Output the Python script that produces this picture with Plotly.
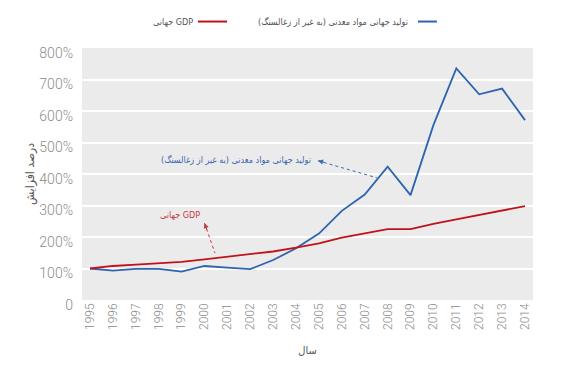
import plotly.graph_objects as go

years = list(range(1995, 2015))
minerals = [100, 93, 99, 99, 90, 108, 103, 98, 127, 164, 211, 283, 335, 423, 333, 555, 735, 653, 671, 571]
gdp = [100, 108, 112, 116, 121, 129, 138, 145, 154, 166, 180, 198, 212, 225, 225, 242, 256, 270, 284, 298]

name_minerals = "تولید جهانی مواد معدنی (به غیر از زغالسنگ)"
name_gdp = "جهانی GDP"

y_ticks = [0, 100, 200, 300, 400, 500, 600, 700, 800]
y_ticktext = ["0", "100%", "200%", "300%", "400%", "500%", "600%", "700%", "800%"]
x_ticktext = [str(y) for y in years]

blue = "#2e63b0"
red = "#c0121a"
tick_col = "#8c8c8c"
font_fam = "Roboto, Open Sans, DejaVu Sans, sans-serif"
ar_fam = "DejaVu Sans Condensed, DejaVu Sans, sans-serif"

fig = go.Figure()
fig.add_trace(go.Scatter(x=years, y=minerals, mode="lines", name=name_minerals,
                         line=dict(color=blue, width=1.8), showlegend=False))
fig.add_trace(go.Scatter(x=years, y=gdp, mode="lines", name=name_gdp,
                         line=dict(color=red, width=1.8), showlegend=False))

shapes = []
annotations = []

# manual RTL legend (symbol to the right of the text)
for name, col, tx, lx0, lx1 in [(name_gdp, red, 0.2506, 0.257, 0.3215),
                                 (name_minerals, blue, 0.727, 0.745, 0.787)]:
    shapes.append(dict(type="line", xref="paper", yref="paper", x0=lx0, x1=lx1,
                       y0=1.105, y1=1.105, line=dict(color=col, width=2)))
    annotations.append(dict(xref="paper", yref="paper", x=tx, y=1.105, text=name,
                            showarrow=False, xanchor="right", yanchor="middle",
                            font=dict(size=9, color="#555555", family=ar_fam)))

# callout labels with dotted leaders
for text, col, tx, ty, hx, hy, tlx, tly, ax, ay in [
        (name_minerals, "#3a68b4", 2004.74, 447, 2004.96, 442, 2007.53, 388, 8, 2),
        (name_gdp, "#c43a3a", 1999.9, 270, 2000.0, 244, 2000.46, 149, 3, 8)]:
    annotations.append(dict(x=tx, y=ty, text=text, showarrow=False, xanchor="right",
                            yanchor="middle", font=dict(size=9, color=col, family=ar_fam)))
    shapes.append(dict(type="line", xref="x", yref="y", x0=hx, y0=hy, x1=tlx, y1=tly,
                       line=dict(color=col, width=1, dash="dot")))
    annotations.append(dict(x=hx, y=hy, text="", showarrow=True, ax=ax, ay=ay,
                            arrowhead=2, arrowsize=1, arrowwidth=1, arrowcolor=col))

fig.update_layout(
    width=571, height=371,
    margin=dict(l=74, r=46, t=40, b=79),
    paper_bgcolor="white", plot_bgcolor="#ebebeb",
    font=dict(family=font_fam, color="#555555"),
    shapes=shapes, annotations=annotations,
    showlegend=False,
)
fig.update_xaxes(
    range=[1994.65, 2014.35], tickvals=years, ticktext=x_ticktext, tickangle=-90,
    showgrid=False, zeroline=False, showline=False, ticks="",
    tickfont=dict(size=12, color=tick_col, family=font_fam, weight=300),
    title=dict(text="سال", font=dict(size=11, color="#555555", family=ar_fam), standoff=17),
)
fig.update_yaxes(
    range=[0, 800], tickvals=y_ticks, ticktext=y_ticktext,
    showgrid=True, gridcolor="white", gridwidth=2, zeroline=False, showline=False,
    ticks="", ticklabelstandoff=8, ticklabelshift=5,
    tickfont=dict(size=14, color=tick_col, family=font_fam, weight=300),
    title=dict(text="درصد افزایش", font=dict(size=12, color="#555555", family=ar_fam), standoff=2),
)

fig.write_html("out.html")
